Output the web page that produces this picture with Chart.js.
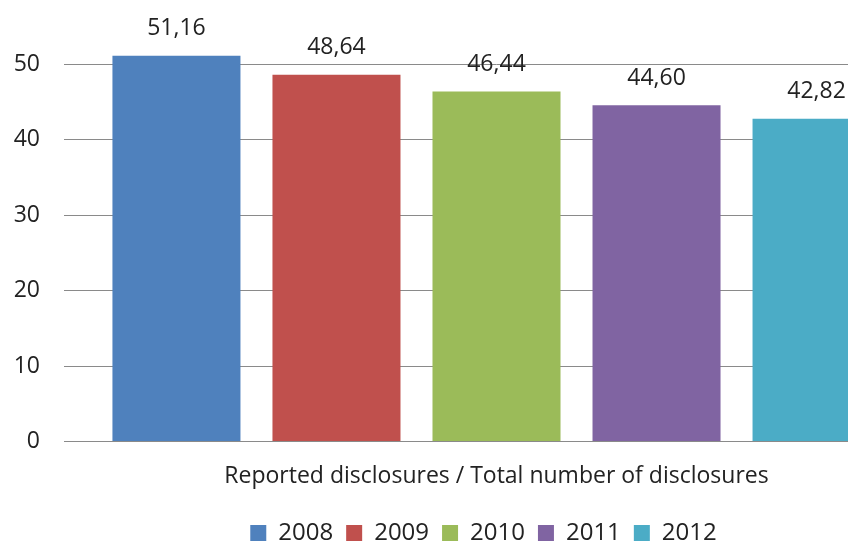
<!DOCTYPE html>
<html>
<head>
<meta charset="utf-8">
<script src="https://cdn.jsdelivr.net/npm/chart.js@4"></script>
<style>
  html, body { margin: 0; padding: 0; background: #fff; overflow: hidden; }
  #wrap { position: absolute; left: 0; top: -36px; width: 1042px; height: 591px; }
</style>
</head>
<body>
<div id="wrap"><canvas id="chart"></canvas></div>
<script>
const categories = ['Reported disclosures / Total number of disclosures'];
const years = ['2008', '2009', '2010', '2011', '2012'];
const values = [51.16, 48.64, 46.44, 44.60, 42.82];
const barColors = ['#4F81BD', '#C0504D', '#9BBB59', '#8064A2', '#4BACC6'];
const yTicks = [0, 10, 20, 30, 40, 50];

const fontFamily = "'Open Sans', sans-serif";

// writes the value above every bar, with a comma as decimal mark
const valueLabels = {
  id: 'valueLabels',
  afterDatasetsDraw(chart) {
    const ctx = chart.ctx;
    ctx.save();
    ctx.font = '23px ' + fontFamily;
    ctx.fillStyle = '#222';
    ctx.textAlign = 'center';
    ctx.textBaseline = 'middle';
    chart.data.datasets.forEach((ds, i) => {
      chart.getDatasetMeta(i).data.forEach((bar, j) => {
        const txt = ds.data[j].toFixed(2).replace('.', ',');
        ctx.fillText(txt, bar.x, bar.y - 27);
      });
    });
    ctx.restore();
  }
};

// the legend sits a bit right of the canvas centre in the original
const legendShift = {
  id: 'legendShift',
  afterLayout(chart) {
    if (chart.legend) {
      chart.legend.left += 19;
      chart.legend.right += 19;
    }
  }
};

const ctx = document.getElementById('chart').getContext('2d');
new Chart(ctx, {
  type: 'bar',
  data: {
    labels: categories,
    datasets: years.map((y, i) => ({
      label: y,
      data: [values[i]],
      backgroundColor: barColors[i],
      barPercentage: 0.8,
      categoryPercentage: 0.925,
    })),
  },
  options: {
    responsive: true,
    maintainAspectRatio: false,
    animation: false,
    layout: { padding: { top: 0, right: 113, left: 0, bottom: 0 } },
    plugins: {
      tooltip: { enabled: false },
      legend: {
        position: 'bottom',
        labels: {
          boxWidth: 16,
          boxHeight: 16,
          padding: 13,
          color: '#222',
          font: { size: 24, family: fontFamily },
        },
      },
    },
    scales: {
      x: {
        afterFit(scale) { scale.height += 5; },
        grid: { display: false },
        border: { display: true, color: '#8a8a8a', width: 1 },
        ticks: {
          color: '#222',
          padding: 13,
          font: { size: 23, family: fontFamily },
        },
      },
      y: {
        min: 0,
        max: 58.33,
        afterFit(scale) { scale.width = 64; },
        afterBuildTicks(scale) { scale.ticks = yTicks.map(v => ({ value: v })); },
        grid: { color: '#8a8a8a', drawTicks: false },
        border: { display: false },
        ticks: {
          color: '#222',
          padding: 24,
          font: { size: 23, family: fontFamily },
        },
      },
    },
  },
  plugins: [valueLabels, legendShift],
});
</script>
</body>
</html>
